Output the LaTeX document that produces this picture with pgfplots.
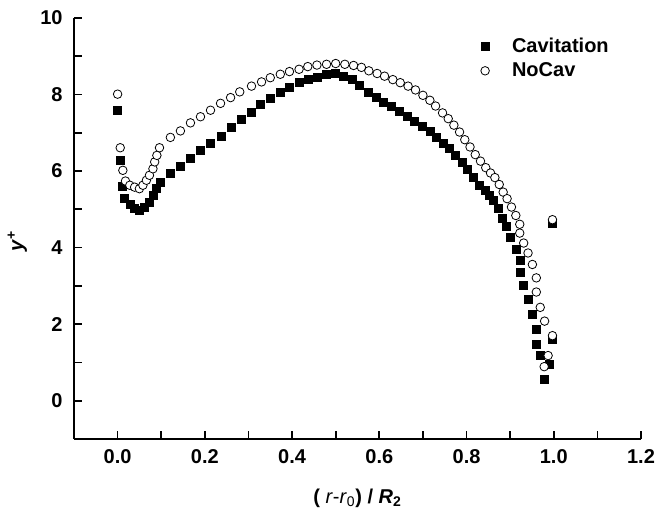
\documentclass[border=0pt]{standalone}
\usepackage{pgfplots}
\pgfplotsset{compat=1.18}
\usepackage{fontspec}
\setmainfont{Liberation Sans}
\begin{document}
\begin{tikzpicture}
\path[use as bounding box] (-55.5pt,-58.5pt) rectangle (438pt,329.25pt);
\begin{axis}[
  at={(0pt,0pt)}, anchor=south west,
  scale only axis, width=425.25pt, height=315.75pt,
  xmin=-0.1, xmax=1.2, ymin=-1, ymax=10,
  axis x line*=bottom, axis y line*=left,
  axis line style={line width=1.5pt, -},
  every tick/.style={line width=1.3pt, black},
  tick align=inside,
  major tick length=6pt, minor tick length=6pt,
  xtick={0,0.2,0.4,0.6,0.8,1.0,1.2},
  ytick={0,2,4,6,8,10},
  minor x tick num=1, minor y tick num=1,
  /pgf/number format/assume math mode=true,
  ticklabel style={font=\fontsize{15}{18}\selectfont\bfseries},
  xticklabel style={/pgf/number format/.cd, fixed, fixed zerofill, precision=1, /tikz/.cd, yshift=-4pt},
  yticklabel style={/pgf/number format/.cd, fixed, precision=0, /tikz/.cd, xshift=-5pt},
  xlabel={\textbf{(} \textit{r}-\textit{r}\textsubscript{0}\textbf{) / }\textbf{\textit{R}\textsubscript{2}}},
  ylabel={\textbf{\textit{y}\textsuperscript{+}}},
  label style={font=\fontsize{15}{18}\selectfont},
  xlabel style={at={(axis description cs:0.5,-0.14)}, anchor=center},
  ylabel style={at={(axis description cs:-0.1,0.47)}, anchor=center, rotate=0},
  legend style={draw=none, fill=none, at={(axis description cs:0.71,0.965)}, anchor=north west,
    font=\fontsize{15}{18}\selectfont\bfseries, column sep=15pt, row sep=2pt},
  legend cell align=left,
  clip=false,
]
\addplot[only marks, mark=square*, mark size=3pt, mark options={fill=black, draw=black, line width=0.3pt}] coordinates {
(0,7.59) (0.005,6.28) (0.011,5.6) (0.016,5.28) (0.028,5.13) (0.039,5.02) (0.05,4.97)
(0.062,5.06) (0.072,5.19) (0.081,5.37) (0.089,5.54) (0.098,5.71) (0.121,5.95) (0.144,6.13)
(0.167,6.33) (0.19,6.54) (0.213,6.74) (0.238,6.91) (0.261,7.14) (0.284,7.35) (0.307,7.55)
(0.327,7.74) (0.35,7.91) (0.373,8.05) (0.394,8.18) (0.416,8.31) (0.436,8.39) (0.457,8.46)
(0.479,8.53) (0.498,8.55) (0.518,8.48) (0.538,8.39) (0.555,8.25) (0.574,8.07) (0.592,7.94)
(0.61,7.81) (0.628,7.70) (0.645,7.57) (0.664,7.43) (0.681,7.31) (0.699,7.17) (0.716,7.05)
(0.731,6.89) (0.746,6.74) (0.76,6.59) (0.775,6.41) (0.789,6.22) (0.802,6.04) (0.815,5.84)
(0.828,5.64) (0.842,5.5) (0.853,5.37) (0.862,5.24) (0.872,5.02) (0.882,4.78) (0.891,4.55)
(0.901,4.27) (0.913,3.97) (0.922,3.68) (0.922,3.36) (0.931,3.01) (0.941,2.66) (0.951,2.27)
(0.96,1.88) (0.96,1.47) (0.969,1.2) (0.989,0.96) (0.978,0.57) (0.997,4.64) (0.997,1.62)
};
\addlegendentry{Cavitation}
\addplot[only marks, mark=*, mark size=3.2pt, mark options={fill=white, draw=black, line width=0.6pt}] coordinates {
(0,8.01) (0.006,6.61) (0.012,6.02) (0.018,5.74) (0.028,5.63) (0.039,5.58) (0.05,5.54)
(0.058,5.63) (0.066,5.76) (0.073,5.89) (0.081,6.06) (0.085,6.24) (0.09,6.41) (0.096,6.61)
(0.121,6.88) (0.144,7.05) (0.167,7.26) (0.19,7.42) (0.213,7.59) (0.236,7.77) (0.259,7.92)
(0.28,8.07) (0.307,8.22) (0.33,8.33) (0.35,8.44) (0.373,8.53) (0.394,8.60) (0.416,8.66)
(0.436,8.73) (0.457,8.77) (0.479,8.79) (0.5,8.81) (0.521,8.79) (0.541,8.76) (0.559,8.71)
(0.576,8.62) (0.595,8.55) (0.612,8.48) (0.631,8.39) (0.648,8.31) (0.666,8.22) (0.683,8.12)
(0.7,7.98) (0.716,7.85) (0.729,7.70) (0.745,7.52) (0.758,7.37) (0.771,7.2) (0.784,7.02)
(0.796,6.82) (0.808,6.63) (0.820,6.43) (0.832,6.26) (0.844,6.09) (0.855,5.95) (0.865,5.83)
(0.875,5.65) (0.884,5.45) (0.893,5.28) (0.903,5.06) (0.913,4.84) (0.922,4.61) (0.922,4.38)
(0.931,4.12) (0.941,3.86) (0.951,3.56) (0.96,3.21) (0.96,2.84) (0.969,2.44) (0.979,2.08)
(0.997,1.7) (0.987,1.18) (0.978,0.89) (0.997,4.73)
};
\addlegendentry{NoCav}
\end{axis}
\end{tikzpicture}
\end{document}
